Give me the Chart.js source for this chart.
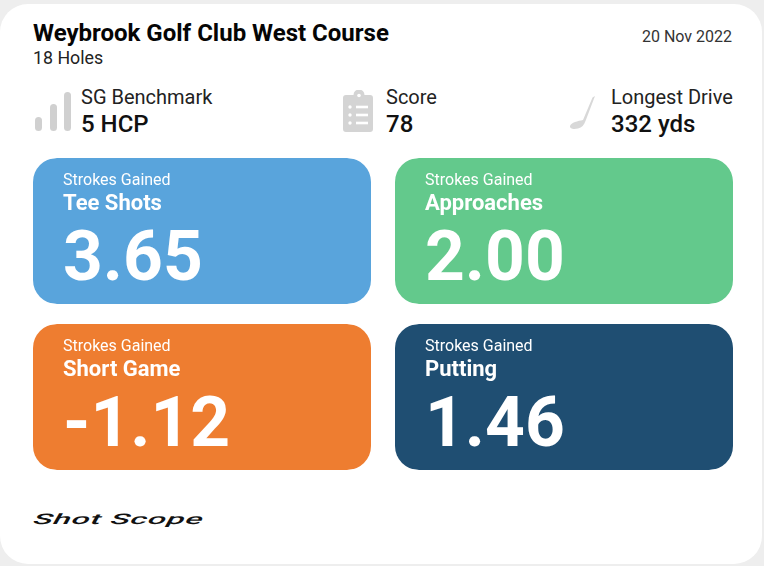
<!DOCTYPE html>
<html><head><meta charset="utf-8">
<script src="https://cdn.jsdelivr.net/npm/chart.js@4"></script>
<style>
html,body{margin:0;padding:0;width:764px;height:566px;overflow:hidden;background:#eeeeee;font-family:Roboto,sans-serif;color:#111}
#card{position:absolute;left:0px;top:4px;width:762px;height:560px;background:#fff;border-radius:28px}
.t{position:absolute;white-space:nowrap;line-height:1}
svg{position:absolute}
canvas{position:absolute}
#wrap{position:absolute;left:21px;top:148px;width:724px;height:332px}
</style></head><body>
<div id="card"></div>
<div class="t" style="left:33px;top:21px;font-size:24px;font-weight:700;color:#050505">Weybrook Golf Club West Course</div>
<div class="t" style="left:33px;top:49px;font-size:17.8px;color:#222">18 Holes</div>
<div class="t" style="right:32px;top:29px;font-size:16px;color:#333">20 Nov 2022</div>

<svg style="left:30px;top:88px" width="50" height="48" fill="#d0d0d0">
<rect x="5" y="29" width="7" height="14" rx="3.5"/><rect x="20" y="16" width="7" height="27" rx="3.5"/><rect x="34" y="4" width="7" height="39" rx="3.5"/></svg>
<div class="t" style="left:81px;top:87px;font-size:20px;color:#222">SG Benchmark</div>
<div class="t" style="left:81px;top:112px;font-size:24px;font-weight:500;color:#111">5 HCP</div>

<svg style="left:341px;top:90px" width="36" height="44">
<path fill="#d4d4d4" d="M5 5H12.500a5.500 5.500 0 0 1 11 0H29a3 3 0 0 1 3 3V39a3 3 0 0 1-3 3H5a3 3 0 0 1-3-3V8a3 3 0 0 1 3-3Z"/>
<circle cx="18" cy="5.500" r="1.800" fill="#fff"/>
<g fill="#fff"><circle cx="9" cy="17" r="1.700"/><circle cx="9" cy="25" r="1.700"/><circle cx="9" cy="33" r="1.700"/>
<rect x="15" y="15.700" width="12" height="2.600"/><rect x="15" y="23.700" width="12" height="2.600"/><rect x="15" y="31.700" width="12" height="2.600"/></g></svg>
<div class="t" style="left:386px;top:87px;font-size:20px;color:#222">Score</div>
<div class="t" style="left:386px;top:112px;font-size:24px;font-weight:500;color:#111">78</div>

<svg style="left:565px;top:90px" width="36" height="44">
<path fill="#d8d8d8" d="M30 6 L27.500 7.500 L18 30 C13 31 6 32.500 5 36 C4.500 39 9 39.500 13 38.500 C17 37.500 19 35 20.500 31Z"/></svg>
<div class="t" style="left:611px;top:87px;font-size:20px;color:#222">Longest Drive</div>
<div class="t" style="left:611px;top:112px;font-size:24px;font-weight:500;color:#111">332 yds</div>

<div id="wrap"><canvas id="c" width="724" height="332"></canvas></div>

<svg style="left:30px;top:505px" width="180" height="26">
<text x="0" y="0" transform="translate(1 19) skewX(-30) scale(2.21 1)" font-family="Roboto" font-size="14.500" font-weight="500" fill="#111" letter-spacing="0.3">Shot Scope</text></svg>

<script>
const rows = ['Top row', 'Bottom row'];
const leftNames = ['Tee Shots', 'Short Game'];
const rightNames = ['Approaches', 'Putting'];
const leftValues = [3.65, -1.12];
const rightValues = [2.00, 1.46];
const leftColors = ['#59a4dc', '#ee7d30'];
const rightColors = ['#63c98c', '#1f4e72'];
const tileShare = [1, 1];
const caption = 'Strokes Gained';

const tileLabels = {
  id: 'tileLabels',
  afterDatasetsDraw(chart) {
    const ctx = chart.ctx;
    const sets = [[leftNames, leftValues], [rightNames, rightValues]];
    sets.forEach((s, d) => {
      chart.getDatasetMeta(d).data.forEach((el, i) => {
        const p = el.getProps(['base', 'x', 'y', 'height'], true);
        const x = Math.min(p.base, p.x) + 12 + 30;
        const top = p.y - p.height / 2;
        ctx.save();
        ctx.fillStyle = '#fff';
        ctx.textBaseline = 'alphabetic';
        ctx.textAlign = 'left';
        ctx.font = '400 16px Roboto';
        ctx.fillText(caption, x, top + 27);
        ctx.font = '700 22px Roboto';
        ctx.fillText(s[0][i], x, top + 52);
        ctx.font = '700 69.5px Roboto';
        ctx.fillText(s[1][i].toFixed(2), x, top + 122);
        ctx.restore();
      });
    });
  }
};
const common = {
  borderColor: 'transparent',
  borderWidth: {left: 12, right: 12, top: 0, bottom: 0},
  borderSkipped: false,
  borderRadius: {topLeft: 36, topRight: 36, bottomLeft: 36, bottomRight: 36},
  inflateAmount: 0,
  barPercentage: 146 / 166,
  categoryPercentage: 1
};
new Chart(document.getElementById('c'), {
  type: 'bar',
  data: {
    labels: rows,
    datasets: [
      {label: 'Left', data: tileShare, backgroundColor: leftColors, ...common},
      {label: 'Right', data: tileShare, backgroundColor: rightColors, ...common}
    ]
  },
  options: {
    indexAxis: 'y',
    responsive: false,
    animation: false,
    layout: {padding: 0},
    plugins: {legend: {display: false}, tooltip: {enabled: false}, title: {display: false}},
    scales: {
      x: {stacked: true, min: 0, max: 2, display: false},
      y: {stacked: true, display: false}
    }
  },
  plugins: [tileLabels]
});
</script>
</body></html>
